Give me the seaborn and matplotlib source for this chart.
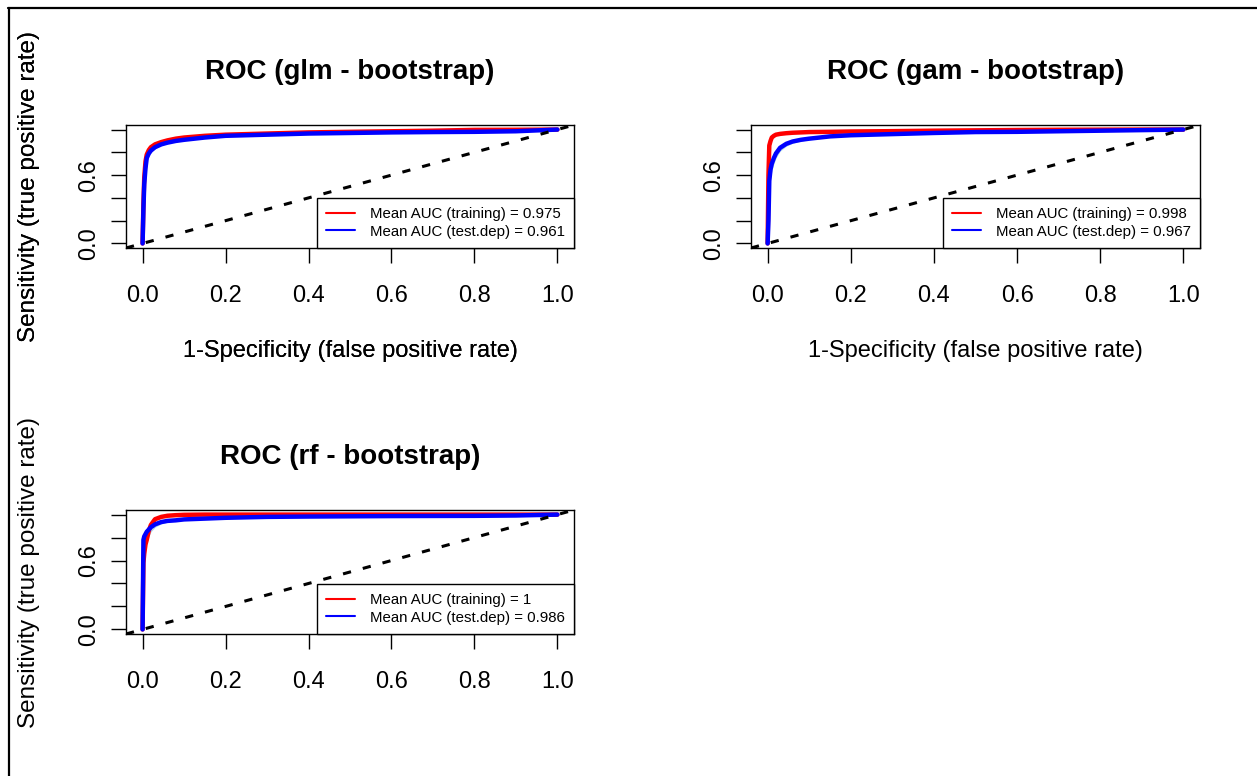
import matplotlib
matplotlib.use("Agg")
import matplotlib.pyplot as plt
from matplotlib.lines import Line2D
import seaborn as sns

# ---------------- data ----------------
fpr = [0, 0.002, 0.004, 0.007, 0.01, 0.015, 0.02, 0.03, 0.045, 0.06, 0.08,
       0.1, 0.15, 0.2, 0.3, 0.4, 0.5, 0.6, 0.7, 0.8, 0.9, 1.0]

glm_train_tpr = [0, 0.35, 0.58, 0.72, 0.78, 0.82, 0.845, 0.87, 0.89, 0.905, 0.92,
                 0.93, 0.945, 0.955, 0.965, 0.975, 0.98, 0.985, 0.99, 0.997, 0.998, 1.0]
glm_test_tpr = [0, 0.30, 0.52, 0.66, 0.75, 0.79, 0.815, 0.845, 0.87, 0.885, 0.90,
                0.91, 0.93, 0.945, 0.955, 0.965, 0.97, 0.975, 0.978, 0.98, 0.985, 1.0]
glm_boot_train_tpr = [0, 0.30, 0.54, 0.69, 0.76, 0.80, 0.83, 0.86, 0.885, 0.90, 0.915,
                      0.925, 0.94, 0.95, 0.962, 0.972, 0.978, 0.984, 0.99, 0.995, 0.998, 1.0]
glm_boot_test_tpr = [0, 0.26, 0.48, 0.63, 0.72, 0.77, 0.80, 0.835, 0.86, 0.878, 0.893,
                     0.905, 0.925, 0.94, 0.952, 0.962, 0.968, 0.973, 0.977, 0.98, 0.986, 1.0]

gam_train_tpr = [0, 0.60, 0.86, 0.90, 0.93, 0.945, 0.955, 0.962, 0.968, 0.972, 0.975,
                 0.978, 0.98, 0.983, 0.986, 0.99, 0.993, 0.996, 0.998, 0.999, 1.0, 1.0]
gam_test_tpr = [0, 0.20, 0.55, 0.65, 0.70, 0.75, 0.79, 0.84, 0.875, 0.895, 0.91,
                0.92, 0.94, 0.95, 0.96, 0.97, 0.978, 0.98, 0.985, 0.99, 0.995, 1.0]
gam_boot_train_tpr = [0, 0.52, 0.80, 0.87, 0.91, 0.935, 0.948, 0.958, 0.965, 0.97, 0.973,
                      0.976, 0.979, 0.982, 0.985, 0.989, 0.992, 0.995, 0.997, 0.999, 1.0, 1.0]
gam_boot_test_tpr = [0, 0.15, 0.45, 0.58, 0.64, 0.70, 0.75, 0.81, 0.855, 0.88, 0.90,
                     0.912, 0.935, 0.947, 0.958, 0.968, 0.976, 0.98, 0.985, 0.99, 0.995, 1.0]

rf_train_tpr = [0, 0.58, 0.66, 0.74, 0.78, 0.86, 0.91, 0.96, 0.98, 0.99, 0.995,
                0.998, 1.0, 1.0, 1.0, 1.0, 1.0, 1.0, 1.0, 1.0, 1.0, 1.0]
rf_test_tpr = [0, 0.78, 0.81, 0.83, 0.85, 0.87, 0.89, 0.915, 0.935, 0.945, 0.95,
               0.958, 0.965, 0.972, 0.98, 0.983, 0.985, 0.987, 0.988, 0.989, 0.992, 1.0]
rf_boot_train_tpr = [0, 0.50, 0.60, 0.70, 0.76, 0.83, 0.89, 0.945, 0.975, 0.985, 0.992,
                     0.996, 0.999, 1.0, 1.0, 1.0, 1.0, 1.0, 1.0, 1.0, 1.0, 1.0]
rf_boot_test_tpr = [0, 0.55, 0.64, 0.71, 0.76, 0.81, 0.85, 0.89, 0.92, 0.935, 0.945,
                    0.953, 0.962, 0.97, 0.978, 0.982, 0.985, 0.987, 0.988, 0.99, 0.993, 1.0]

models = ["glm", "gam", "rf"]
titles = ["ROC (glm - bootstrap)", "ROC (gam - bootstrap)", "ROC (rf - bootstrap)"]
train_auc = ["0.975", "0.998", "1"]
test_auc = ["0.961", "0.967", "0.986"]
curves = {
    "glm": (glm_train_tpr, glm_test_tpr, glm_boot_train_tpr, glm_boot_test_tpr),
    "gam": (gam_train_tpr, gam_test_tpr, gam_boot_train_tpr, gam_boot_test_tpr),
    "rf": (rf_train_tpr, rf_test_tpr, rf_boot_train_tpr, rf_boot_test_tpr),
}
tick_vals = [0.0, 0.2, 0.4, 0.6, 0.8, 1.0]
x_tick_labels = ["0.0", "0.2", "0.4", "0.6", "0.8", "1.0"]
y_tick_labels = ["0.0", "", "", "0.6", "", ""]
ref_line = [0, 1]

# ---------------- style ----------------
sns.set_style("white")
plt.rcParams["font.family"] = ["Liberation Sans", "DejaVu Sans"]
plt.rcParams["text.color"] = "black"
plt.rcParams["axes.labelcolor"] = "black"
plt.rcParams["xtick.color"] = "black"
plt.rcParams["ytick.color"] = "black"

W, H = 1257, 776
fig = plt.figure(figsize=(W / 100, H / 100), dpi=100)

# axes rectangles in pixels: left, top, right, bottom
rects_px = [(126, 125, 574, 248), (751, 125, 1200, 248), (126, 510, 574, 634)]

for m, title, tr_auc, te_auc, (l, t, r, b) in zip(models, titles, train_auc, test_auc, rects_px):
    ax = fig.add_axes([l / W, 1 - b / H, (r - l) / W, (b - t) / H])
    tr, te, btr, bte = curves[m]
    sns.lineplot(x=fpr, y=btr, ax=ax, color="#FFB6C1", lw=1, sort=False, estimator=None)
    sns.lineplot(x=fpr, y=bte, ax=ax, color="#ADD8E6", lw=1, sort=False, estimator=None)
    sns.lineplot(x=fpr, y=tr, ax=ax, color="red", lw=3.2, sort=False, estimator=None,
                 label=f"Mean AUC (training) = {tr_auc}")
    sns.lineplot(x=fpr, y=te, ax=ax, color="blue", lw=3.2, sort=False, estimator=None,
                 label=f"Mean AUC (test.dep) = {te_auc}")
    ax.axline((ref_line[0], ref_line[0]), (ref_line[1], ref_line[1]), color="black",
              lw=2.2, linestyle=(0, (2.7, 4.0)))

    ax.set_xlim(-0.04, 1.04)
    ax.set_ylim(-0.04, 1.04)
    ax.set_xticks(tick_vals)
    ax.set_xticklabels(x_tick_labels, fontsize=17)
    ax.set_yticks(tick_vals)
    ax.set_yticklabels(y_tick_labels, fontsize=17, rotation=90, va="center")
    ax.tick_params(axis="both", which="major", bottom=True, left=True, top=False,
                   right=False, direction="out", length=10.5, width=1,
                   color="black", labelcolor="black")
    ax.tick_params(axis="x", pad=16)
    ax.tick_params(axis="y", pad=8)
    for s in ax.spines.values():
        s.set_color("black")
        s.set_linewidth(1)
        s.set_visible(True)

    ax.set_title(title, fontsize=20, fontweight="bold", pad=33, y=1.0, color="black")
    ax.set_xlabel("1-Specificity (false positive rate)", fontsize=17)
    ax.set_ylabel("Sensitivity (true positive rate)", fontsize=17.5)
    ax.xaxis.set_label_coords(0.5, (b - 351) / (b - t))
    ax.xaxis.label.set_va("center")
    ax.yaxis.set_label_coords((29 - l) / (r - l), 0.5)
    ax.yaxis.label.set_va("center")

    leg = ax.legend(loc="lower right", bbox_to_anchor=(1, 0), borderaxespad=0,
                    fontsize=10.8, frameon=True, fancybox=False, shadow=False,
                    framealpha=1, edgecolor="black", facecolor="white",
                    handlelength=1.9, handletextpad=1.0, borderpad=0.62,
                    labelspacing=0.25)
    leg.get_frame().set_linewidth(1)
    leg.set_zorder(10)
    for h in leg.get_lines():
        h.set_linewidth(1.5)

# frame lines of the screenshot (top and left)
fig.add_artist(Line2D([8 / W, 1], [1 - 7.5 / H, 1 - 7.5 / H], color="black", lw=1.6,
                      transform=fig.transFigure))
fig.add_artist(Line2D([9 / W, 9 / W], [0, 1 - 7.5 / H], color="black", lw=1.6,
                      transform=fig.transFigure))

fig.savefig("out.png", dpi=100)
